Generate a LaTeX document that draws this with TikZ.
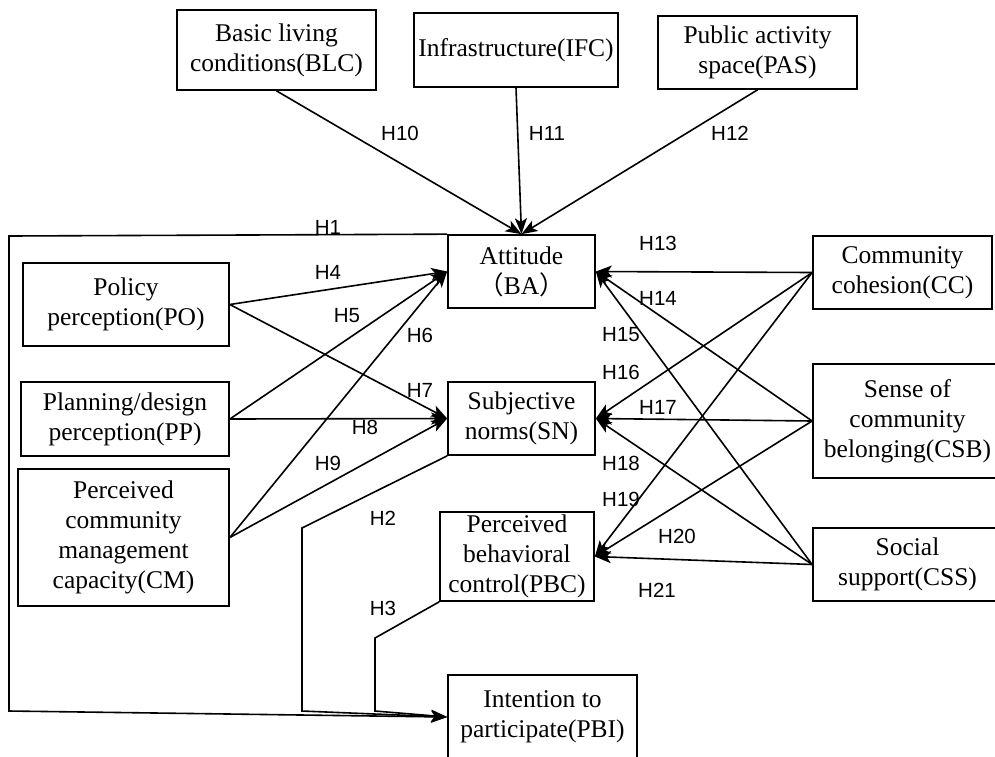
\documentclass[tikz,border=0pt]{standalone}
\usepackage{fontspec}
\setmainfont{Liberation Serif}
\newfontfamily\hypfont{Liberation Sans}
\newfontfamily\cjk{Noto Sans CJK SC}
\usetikzlibrary{arrows.meta}

\begin{document}
\begin{tikzpicture}
                \tikzset{x=1pt, y=-1pt}
                \tikzstyle{var}=[rectangle, draw, line width=1.7pt, inner sep=0pt, align=center, font=\fontsize{25.5}{30}\selectfont]
                \tikzstyle{hyp}=[inner sep=0pt, font=\hypfont\fontsize{20.5}{24}\selectfont]
                \tikzstyle{link}=[line width=1.6pt, -{Stealth[length=16pt, width=12pt, inset=4pt]}]

                \useasboundingbox (0,0) rectangle (995,756);

                \draw (276.5, 50.0)  node[var, minimum width=199, minimum height=80]  (BLC) {Basic living\\conditions(BLC)};
                \draw (516.0, 50.0)  node[var, minimum width=204, minimum height=74]  (IFC) {Infrastructure(IFC)};
                \draw (757.5, 52.5)  node[var, minimum width=199, minimum height=73]  (PAS) {Public activity\\space(PAS)};

                \draw (126.0, 304.5) node[var, minimum width=206, minimum height=83]  (PO)  {Policy\\perception(PO)};
                \draw (125.0, 419.0) node[var, minimum width=208, minimum height=74]  (PP)  {Planning/design\\perception(PP)};
                \draw (123.5, 537.5) node[var, minimum width=211, minimum height=137] (CM)  {Perceived\\community\\management\\capacity(CM)};

                \draw (521.5, 271.5) node[var, minimum width=147, minimum height=73]  (BA)  {Attitude\\{\cjk （}BA{\cjk ）}};
                \draw (521.5, 418.5) node[var, minimum width=147, minimum height=73]  (SN)  {Subjective\\norms(SN)};
                \draw (517.0, 556.5) node[var, minimum width=154, minimum height=89]  (PBC) {Perceived\\behavioral\\control(PBC)};
                \draw (542.5, 717.0) node[var, minimum width=189, minimum height=84]  (PBI) {Intention to\\participate(PBI)};

                \draw (902.5, 272.5) node[var, minimum width=179, minimum height=73]  (CC)  {Community\\cohesion(CC)};
                \draw (907.5, 421.0) node[var, minimum width=189, minimum height=114] (CSB) {Sense of\\community\\belonging(CSB)};
                \draw (907.5, 564.5) node[var, minimum width=189, minimum height=73]  (CSS) {Social\\support(CSS)};

                \coordinate (c1) at (9, 236);
                \coordinate (c2) at (9, 711);
                \coordinate (c3) at (302, 528);
                \coordinate (c4) at (302, 711);
                \coordinate (c5) at (375, 638);
                \coordinate (c6) at (375, 711);

                \draw [link]        (BA.north west) -- (c1) -- (c2) -- (PBI.west);
                \draw [link]        (SN.south west) -- (c3) -- (c4) -- (PBI.west);
                \draw [link]        (PBC.south west) -- (c5) -- (c6) -- (PBI.west);

                \draw [link]        (BLC.south) -- (BA.north);
                \draw [link]        (IFC.south) -- (BA.north);
                \draw [link]        (PAS.south) -- (BA.north);

                \draw [link]        (PO.east) -- (BA.west);
                \draw [link]        (PP.east) -- (BA.west);
                \draw [link]        (CM.east) -- (BA.west);
                \draw [link]        (PO.east) -- (SN.west);
                \draw [link]        (PP.east) -- (SN.west);
                \draw [link]        (CM.east) -- (SN.west);

                \draw [link]        (CC.west) -- (BA.east);
                \draw [link]        (CSB.west) -- (BA.east);
                \draw [link]        (CSS.west) -- (BA.east);
                \draw [link]        (CC.west) -- (SN.east);
                \draw [link]        (CSB.west) -- (SN.east);
                \draw [link]        (CSS.west) -- (SN.east);
                \draw [link]        (CC.west) -- (PBC.east);
                \draw [link]        (CSB.west) -- (PBC.east);
                \draw [link]        (CSS.west) -- (PBC.east);

                \draw (328, 227)    node[hyp]   (h1)    {H1};
                \draw (383, 518)    node[hyp]   (h2)    {H2};
                \draw (383, 608)    node[hyp]   (h3)    {H3};
                \draw (328, 272)    node[hyp]   (h4)    {H4};
                \draw (347, 316)    node[hyp]   (h5)    {H5};
                \draw (420, 335)    node[hyp]   (h6)    {H6};
                \draw (420, 390)    node[hyp]   (h7)    {H7};
                \draw (365, 427)    node[hyp]   (h8)    {H8};
                \draw (328, 463)    node[hyp]   (h9)    {H9};
                \draw (400, 133)    node[hyp]   (h10)   {H10};
                \draw (547, 133)    node[hyp]   (h11)   {H11};
                \draw (730, 133)    node[hyp]   (h12)   {H12};
                \draw (658, 243)    node[hyp]   (h13)   {H13};
                \draw (658, 298)    node[hyp]   (h14)   {H14};
                \draw (621, 335)    node[hyp]   (h15)   {H15};
                \draw (621, 372)    node[hyp]   (h16)   {H16};
                \draw (658, 407)    node[hyp]   (h17)   {H17};
                \draw (621, 463)    node[hyp]   (h18)   {H18};
                \draw (621, 499)    node[hyp]   (h19)   {H19};
                \draw (677, 536)    node[hyp]   (h20)   {H20};
                \draw (657, 590)    node[hyp]   (h21)   {H21};
\end{tikzpicture}
\end{document}
